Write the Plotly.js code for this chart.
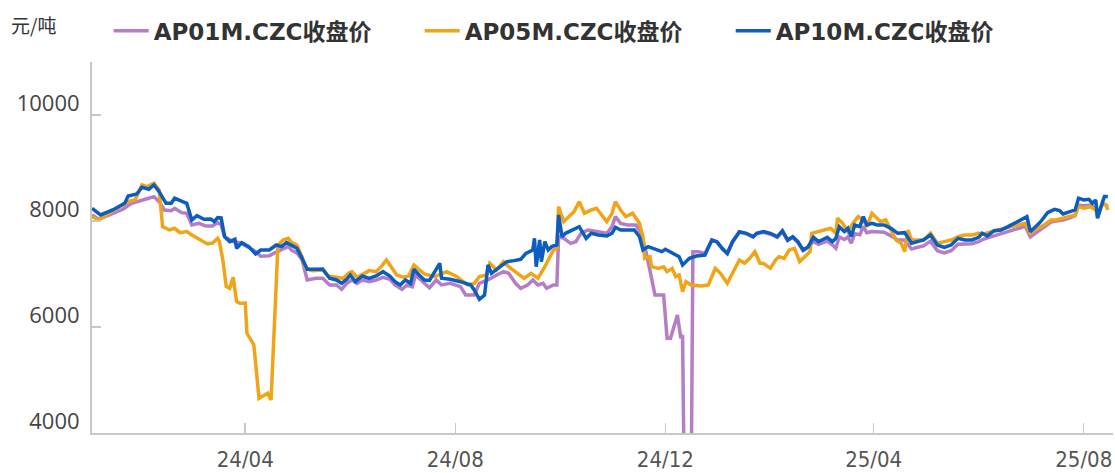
<!DOCTYPE html>
<html>
<head>
<meta charset="utf-8">
<script src="https://cdn.plot.ly/plotly-3.0.1.min.js"></script>
<style>html,body{margin:0;padding:0;background:#fff;}#chart{width:1115px;height:473px;}</style>
</head>
<body>
<div id="chart"></div>
<script>
// ---- data ----
const seriesNames = ['AP01M.CZC收盘价', 'AP05M.CZC收盘价', 'AP10M.CZC收盘价'];
const unitLabel = '元/吨';
const xTickVals = ['2024-04-01', '2024-08-01', '2024-12-01', '2025-04-01', '2025-08-01'];
const xTickText = ['24/04', '24/08', '24/12', '25/04', '25/08'];
const yTickVals = [4000, 6000, 8000, 10000];
const yTickText = ['4000', '6000', '8000', '10000'];

const dates01 = ['2024-01-03','2024-01-07','2024-01-13','2024-01-21','2024-01-26','2024-01-30','2024-02-03','2024-02-08','2024-02-11','2024-02-14','2024-02-18','2024-02-20','2024-02-24','2024-02-27','2024-03-01','2024-03-05','2024-03-09','2024-03-13','2024-03-16','2024-03-18','2024-03-20','2024-03-25','2024-03-29','2024-04-03','2024-04-07','2024-04-10','2024-04-15','2024-04-18','2024-04-22','2024-04-26','2024-04-28','2024-05-01','2024-05-04','2024-05-07','2024-05-12','2024-05-16','2024-05-20','2024-05-24','2024-05-27','2024-05-30','2024-06-02','2024-06-05','2024-06-08','2024-06-12','2024-06-16','2024-06-20','2024-06-24','2024-06-27','2024-07-01','2024-07-04','2024-07-07','2024-07-09','2024-07-12','2024-07-15','2024-07-17','2024-07-21','2024-07-24','2024-07-29','2024-08-04','2024-08-07','2024-08-12','2024-08-15','2024-08-20','2024-08-25','2024-08-29','2024-09-01','2024-09-05','2024-09-08','2024-09-12','2024-09-15','2024-09-18','2024-09-21','2024-09-23','2024-09-27','2024-09-29','2024-09-30','2024-10-03','2024-10-07','2024-10-10','2024-10-13','2024-10-17','2024-10-23','2024-10-28','2024-10-31','2024-11-02','2024-11-05','2024-11-09','2024-11-14','2024-11-17','2024-11-20','2024-11-22','2024-11-25','2024-11-30','2024-12-02','2024-12-04','2024-12-08','2024-12-10','2024-12-11','2024-12-12','2024-12-16','2024-12-17','2024-12-20','2024-12-24','2024-12-28','2024-12-31','2025-01-03','2025-01-06','2025-01-09','2025-01-13','2025-01-17','2025-01-21','2025-01-23','2025-01-27','2025-01-31','2025-02-04','2025-02-07','2025-02-10','2025-02-13','2025-02-16','2025-02-19','2025-02-22','2025-02-25','2025-02-28','2025-03-02','2025-03-05','2025-03-08','2025-03-10','2025-03-12','2025-03-15','2025-03-17','2025-03-19','2025-03-21','2025-03-24','2025-03-26','2025-03-28','2025-03-31','2025-04-03','2025-04-07','2025-04-11','2025-04-15','2025-04-19','2025-04-23','2025-04-26','2025-04-30','2025-05-04','2025-05-08','2025-05-12','2025-05-16','2025-05-20','2025-05-24','2025-05-28','2025-06-01','2025-06-04','2025-06-08','2025-06-12','2025-06-16','2025-06-20','2025-06-24','2025-06-28','2025-07-01','2025-07-05','2025-07-09','2025-07-13','2025-07-16','2025-07-20','2025-07-24','2025-07-27','2025-07-29','2025-08-01','2025-08-05','2025-08-08','2025-08-09','2025-08-12','2025-08-15'];
const close01 = [8114,8032,8114,8221,8334,8365,8410,8460,8365,8208,8195,8240,8157,8145,7925,7956,7906,7906,7969,7925,7704,7610,7591,7503,7422,7334,7346,7397,7460,7522,7447,7397,7272,6887,6919,6919,6793,6793,6711,6824,6887,6824,6887,6855,6887,6938,6900,6793,6711,6793,6761,6981,6887,6800,6740,6887,6793,6824,6761,6604,6604,6824,6887,6981,7044,7013,6824,6730,6793,6887,6793,6824,6730,6793,6793,7704,7673,7579,7610,7768,7831,7799,7768,7893,8082,7956,7925,7925,7768,7390,7076,6604,6604,5787,5787,6226,5787,5850,3000,3000,7422,7422,7390,7630,7600,7475,7380,7600,7790,7760,7695,7760,7785,7750,7690,7800,7630,7690,7595,7440,7500,7610,7560,7580,7620,7550,7485,7700,7650,7700,7580,7760,7740,7900,7780,7800,7800,7790,7720,7640,7640,7470,7500,7530,7620,7440,7400,7440,7560,7560,7570,7610,7660,7700,7740,7790,7820,7860,7900,7700,7800,7880,7980,8000,8020,8060,8100,8300,8290,8300,8250,8120,8340,8270];

const dates05 = ['2024-01-03','2024-01-07','2024-01-13','2024-01-19','2024-01-24','2024-01-28','2024-01-30','2024-02-01','2024-02-04','2024-02-08','2024-02-11','2024-02-13','2024-02-17','2024-02-20','2024-02-23','2024-02-27','2024-03-01','2024-03-04','2024-03-07','2024-03-10','2024-03-13','2024-03-16','2024-03-17','2024-03-19','2024-03-21','2024-03-23','2024-03-25','2024-03-27','2024-03-29','2024-04-01','2024-04-02','2024-04-04','2024-04-06','2024-04-09','2024-04-12','2024-04-14','2024-04-16','2024-04-20','2024-04-23','2024-04-26','2024-04-28','2024-05-01','2024-05-04','2024-05-06','2024-05-10','2024-05-16','2024-05-19','2024-05-24','2024-05-28','2024-05-31','2024-06-02','2024-06-05','2024-06-08','2024-06-12','2024-06-16','2024-06-19','2024-06-22','2024-06-25','2024-06-28','2024-07-02','2024-07-05','2024-07-08','2024-07-11','2024-07-14','2024-07-20','2024-07-27','2024-08-02','2024-08-08','2024-08-12','2024-08-15','2024-08-19','2024-08-21','2024-08-25','2024-08-29','2024-09-01','2024-09-05','2024-09-10','2024-09-14','2024-09-18','2024-09-22','2024-09-27','2024-09-29','2024-09-30','2024-10-03','2024-10-06','2024-10-09','2024-10-12','2024-10-15','2024-10-19','2024-10-22','2024-10-25','2024-10-28','2024-10-31','2024-11-02','2024-11-05','2024-11-08','2024-11-12','2024-11-16','2024-11-18','2024-11-19','2024-11-22','2024-11-23','2024-11-27','2024-11-30','2024-12-02','2024-12-05','2024-12-07','2024-12-09','2024-12-11','2024-12-13','2024-12-16','2024-12-22','2024-12-26','2024-12-30','2025-01-02','2025-01-06','2025-01-09','2025-01-13','2025-01-16','2025-01-19','2025-01-22','2025-01-25','2025-01-27','2025-01-31','2025-02-03','2025-02-05','2025-02-08','2025-02-11','2025-02-14','2025-02-17','2025-02-20','2025-02-23','2025-02-24','2025-02-28','2025-03-04','2025-03-07','2025-03-10','2025-03-11','2025-03-14','2025-03-17','2025-03-20','2025-03-23','2025-03-26','2025-03-28','2025-03-31','2025-04-02','2025-04-05','2025-04-08','2025-04-11','2025-04-14','2025-04-17','2025-04-19','2025-04-21','2025-04-23','2025-04-26','2025-04-30','2025-05-04','2025-05-08','2025-05-12','2025-05-16','2025-05-20','2025-05-24','2025-05-28','2025-06-01','2025-06-04','2025-06-08','2025-06-12','2025-06-16','2025-06-20','2025-06-24','2025-06-28','2025-07-01','2025-07-05','2025-07-09','2025-07-13','2025-07-16','2025-07-20','2025-07-24','2025-07-27','2025-07-29','2025-08-01','2025-08-05','2025-08-08','2025-08-09','2025-08-12','2025-08-14','2025-08-15'];
const close05 = [8082,8020,8145,8270,8365,8397,8553,8680,8650,8712,8586,7893,7831,7862,7780,7800,7736,7673,7629,7566,7585,7673,7610,7264,6761,6730,6938,6478,6447,6453,5881,5755,5661,4655,4717,4750,4623,7547,7642,7673,7591,7547,7327,7107,7064,7076,6962,6938,6919,7013,7044,6938,7000,7064,7044,7138,7264,7107,6981,6938,6962,7170,7089,7000,6950,7044,6950,6793,6824,6950,6981,7202,7076,7233,7138,7044,6919,7013,6919,7138,7453,7485,8270,7987,8082,8177,8365,8145,8208,8240,8114,7987,8145,8365,8208,8082,8145,7956,7704,7296,7327,7138,7107,7138,7044,7107,6950,6981,6667,6855,6793,6774,6793,7107,7013,6824,7013,7264,7202,7296,7422,7202,7200,7107,7264,7327,7296,7453,7484,7233,7327,7422,7768,7799,7830,7862,7768,8051,7956,7799,7956,8082,8020,7893,8145,8082,7987,8020,7830,7642,7579,7422,7830,7642,7642,7642,7768,7579,7610,7642,7704,7736,7736,7768,7755,7799,7830,7862,7893,7925,7956,7768,7862,7925,8020,8020,8051,8082,8114,8270,8240,8270,8208,8082,8334,8303,8208];

const dates10 = ['2024-01-03','2024-01-08','2024-01-15','2024-01-22','2024-01-24','2024-01-29','2024-02-01','2024-02-05','2024-02-08','2024-02-11','2024-02-15','2024-02-18','2024-02-20','2024-02-24','2024-02-27','2024-03-01','2024-03-04','2024-03-08','2024-03-12','2024-03-14','2024-03-16','2024-03-18','2024-03-20','2024-03-23','2024-03-26','2024-03-27','2024-03-30','2024-04-03','2024-04-07','2024-04-10','2024-04-15','2024-04-19','2024-04-22','2024-04-25','2024-04-28','2024-05-01','2024-05-04','2024-05-07','2024-05-12','2024-05-16','2024-05-20','2024-05-24','2024-05-27','2024-05-30','2024-06-01','2024-06-04','2024-06-08','2024-06-12','2024-06-16','2024-06-20','2024-06-24','2024-06-27','2024-06-30','2024-07-03','2024-07-06','2024-07-08','2024-07-11','2024-07-14','2024-07-17','2024-07-21','2024-07-23','2024-07-24','2024-07-29','2024-08-04','2024-08-10','2024-08-12','2024-08-15','2024-08-18','2024-08-20','2024-08-22','2024-08-25','2024-08-29','2024-08-31','2024-09-04','2024-09-08','2024-09-11','2024-09-15','2024-09-16','2024-09-17','2024-09-19','2024-09-20','2024-09-22','2024-09-24','2024-09-26','2024-09-29','2024-09-30','2024-10-02','2024-10-04','2024-10-08','2024-10-12','2024-10-16','2024-10-19','2024-10-23','2024-10-28','2024-10-31','2024-11-02','2024-11-05','2024-11-09','2024-11-13','2024-11-16','2024-11-18','2024-11-21','2024-11-25','2024-11-29','2024-12-01','2024-12-05','2024-12-09','2024-12-11','2024-12-15','2024-12-19','2024-12-24','2024-12-28','2024-12-31','2025-01-03','2025-01-06','2025-01-09','2025-01-13','2025-01-17','2025-01-21','2025-01-23','2025-01-27','2025-01-31','2025-02-04','2025-02-07','2025-02-10','2025-02-13','2025-02-16','2025-02-19','2025-02-22','2025-02-25','2025-02-28','2025-03-02','2025-03-05','2025-03-08','2025-03-10','2025-03-12','2025-03-15','2025-03-17','2025-03-19','2025-03-21','2025-03-24','2025-03-26','2025-03-28','2025-03-31','2025-04-03','2025-04-07','2025-04-11','2025-04-15','2025-04-19','2025-04-23','2025-04-26','2025-04-30','2025-05-04','2025-05-08','2025-05-12','2025-05-16','2025-05-20','2025-05-24','2025-05-28','2025-06-01','2025-06-03','2025-06-06','2025-06-10','2025-06-14','2025-06-18','2025-06-22','2025-06-26','2025-06-29','2025-07-01','2025-07-04','2025-07-07','2025-07-11','2025-07-15','2025-07-18','2025-07-20','2025-07-24','2025-07-27','2025-07-29','2025-08-01','2025-08-04','2025-08-06','2025-08-08','2025-08-09','2025-08-12','2025-08-13','2025-08-15'];
const close10 = [8240,8114,8208,8334,8472,8510,8636,8600,8680,8553,8334,8334,8430,8365,8334,8020,8100,8032,8038,7987,8063,8057,7704,7610,7654,7485,7591,7516,7378,7453,7453,7547,7516,7591,7547,7485,7296,7089,7089,7095,6919,6887,6824,6900,6981,6855,6962,6919,6962,7044,6962,6855,6793,6887,6824,7089,6981,6887,6880,7076,7202,6919,6900,6855,6793,6698,6522,6604,7170,7013,7089,7170,7233,7252,7277,7390,7453,7673,7138,7642,7233,7610,7453,7516,7547,8114,7704,7768,7831,7893,7673,7768,7736,7717,7768,7881,7831,7831,7831,7704,7453,7516,7466,7422,7466,7390,7327,7170,7296,7340,7358,7642,7610,7485,7390,7610,7799,7768,7704,7768,7799,7768,7704,7817,7642,7704,7610,7453,7516,7692,7610,7642,7692,7610,7673,7893,7799,7862,7704,7925,7893,8082,7925,7956,7925,7925,7862,7768,7780,7579,7610,7642,7736,7547,7504,7547,7673,7642,7642,7692,7768,7717,7817,7830,7893,7956,8020,8082,7799,7893,7987,8157,8220,8195,8132,8177,8208,8430,8398,8410,8334,8398,8051,8365,8460,8460];

// ---- chart ----
const colors = ['#b57dc6', '#f0a416', '#0b5dbf'];
const xs = [dates01, dates05, dates10];
const ys = [close01, close05, close10];
const traces = seriesNames.map((n, i) => ({
  type: 'scatter', mode: 'lines', name: n,
  x: xs[i], y: ys[i],
  line: {color: colors[i], width: 3.5},
  hoverinfo: 'x+y+name'
}));

const layout = {
  width: 1115, height: 473,
  margin: {l: 92, r: 2, t: 62, b: 40},
  paper_bgcolor: '#ffffff', plot_bgcolor: '#ffffff',
  showlegend: true,
  legend: {
    orientation: 'h', xref: 'container', yref: 'container',
    x: 0.0975, y: 0.935, xanchor: 'left', yanchor: 'middle',
    font: {family: 'DejaVu Sans, Noto Sans CJK SC, sans-serif', size: 23, color: '#333333', weight: 'bold'},
    entrywidth: 261, entrywidthmode: 'pixels', itemwidth: 35,
    bgcolor: 'rgba(0,0,0,0)'
  },
  xaxis: {
    type: 'date', range: ['2024-01-03', '2025-08-18'],
    showgrid: false, zeroline: false,
    showline: true, linecolor: '#c8c8c8', linewidth: 2,
    ticks: 'inside', ticklen: 10, tickwidth: 1.5, tickcolor: '#c8c8c8',
    tickmode: 'array', tickvals: xTickVals, ticktext: xTickText,
    tickfont: {family: 'Liberation Sans Narrow, DejaVu Sans Condensed, sans-serif', size: 22, color: '#555555'},
    ticklabelstandoff: 6, ticklabeloverflow: 'allow'
  },
  yaxis: {
    range: [4000, 11000],
    showgrid: false, zeroline: false,
    showline: true, linecolor: '#c8c8c8', linewidth: 2,
    ticks: 'inside', ticklen: 9, tickwidth: 1.5, tickcolor: '#c8c8c8',
    tickmode: 'array', tickvals: yTickVals, ticktext: yTickText,
    tickfont: {family: 'Open Sans, sans-serif', size: 22, color: '#444444'},
    ticklabelshift: -12, ticklabelstandoff: 6
  },
  annotations: [{
    text: unitLabel, xref: 'paper', yref: 'paper', showarrow: false,
    x: -0.081, y: 1.0, xanchor: 'left', yanchor: 'bottom', yshift: 22,
    font: {family: 'Noto Sans CJK SC, sans-serif', size: 19, color: '#333333'}
  }]
};

Plotly.newPlot('chart', traces, layout, {displayModeBar: false, staticPlot: true});
</script>
</body>
</html>
